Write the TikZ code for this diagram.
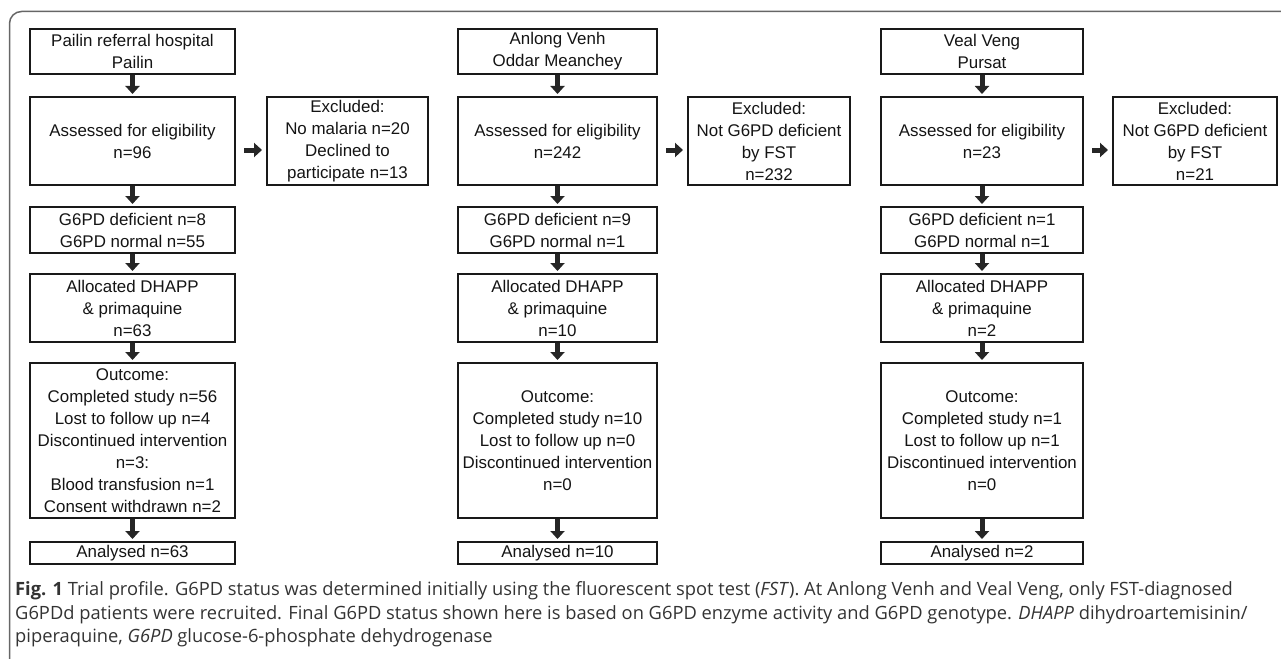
\documentclass[tikz,border=0pt]{standalone}
\usepackage{fontspec}
\setmainfont{Liberation Sans}
\newfontfamily\capfont{Open Sans}
\usetikzlibrary{arrows.meta}
\begin{document}
\begin{tikzpicture}[x=1pt,y=-1pt,
  bx/.style={draw=black!90, line width=2pt, inner sep=0pt, align=center, anchor=north west,
    text=black!92, font=\fontsize{16.9}{22}\selectfont},
  barrow/.style={line width=5pt, -{Triangle[length=8pt,width=14pt]}, draw=black!85},
  captext/.style={anchor=base west, inner sep=0pt, text=black!80, font=\capfont\fontsize{18.3}{24}\selectfont},
]
\useasboundingbox (0,0) rectangle (1281,658);
\draw[line width=1.5pt, black!60, rounded corners=12pt] (9.5,660) -- (9.5,11.5) -- (1283,11.5);

% Column 1: Pailin
\node[bx, minimum width=205pt, minimum height=45pt] (p1) at (29,28) {Pailin referral hospital\\Pailin};
\node[bx, minimum width=205pt, minimum height=88pt] (p2) at (29,96) {Assessed for eligibility\\n=96};
\node[bx, minimum width=205pt, minimum height=46pt] (p3) at (29,206) {G6PD deficient n=8\\G6PD normal n=55};
\node[bx, minimum width=205pt, minimum height=68pt] (p4) at (29,273) {Allocated DHAPP\\\& primaquine\\n=63};
\node[bx, minimum width=205pt, minimum height=155pt] (p5) at (29,362) {Outcome:\\Completed study n=56\\Lost to follow up n=4\\Discontinued intervention\\n=3:\\Blood transfusion n=1\\Consent withdrawn n=2};
\node[bx, minimum width=205pt, minimum height=22pt] (p6) at (29,541) {Analysed n=63};
\node[bx, minimum width=161pt, minimum height=88pt] (pe) at (266,96) {Excluded:\\No malaria n=20\\Declined to\\participate n=13};

% Column 2: Anlong Venh
\node[bx, minimum width=199pt, minimum height=45pt] (a1) at (457,28) {Anlong Venh\\Oddar Meanchey};
\node[bx, minimum width=199pt, minimum height=88pt] (a2) at (457,96) {Assessed for eligibility\\n=242};
\node[bx, minimum width=199pt, minimum height=46pt] (a3) at (457,206) {G6PD deficient n=9\\G6PD normal n=1};
\node[bx, minimum width=199pt, minimum height=68pt] (a4) at (457,273) {Allocated DHAPP\\\& primaquine\\n=10};
\node[bx, minimum width=199pt, minimum height=155pt] (a5) at (457,362) {Outcome:\\Completed study n=10\\Lost to follow up n=0\\Discontinued intervention\\n=0};
\node[bx, minimum width=199pt, minimum height=22pt] (a6) at (457,541) {Analysed n=10};
\node[bx, minimum width=162pt, minimum height=88pt] (ae) at (687,96) {Excluded:\\Not G6PD deficient\\by FST\\n=232};

% Column 3: Veal Veng
\node[bx, minimum width=202pt, minimum height=45pt] (v1) at (880,28) {Veal Veng\\Pursat};
\node[bx, minimum width=202pt, minimum height=88pt] (v2) at (880,96) {Assessed for eligibility\\n=23};
\node[bx, minimum width=202pt, minimum height=46pt] (v3) at (880,206) {G6PD deficient n=1\\G6PD normal n=1};
\node[bx, minimum width=202pt, minimum height=68pt] (v4) at (880,273) {Allocated DHAPP\\\& primaquine\\n=2};
\node[bx, minimum width=202pt, minimum height=155pt] (v5) at (880,362) {Outcome:\\Completed study n=1\\Lost to follow up n=1\\Discontinued intervention\\n=0};
\node[bx, minimum width=202pt, minimum height=22pt] (v6) at (880,541) {Analysed n=2};
\node[bx, minimum width=164pt, minimum height=88pt] (ve) at (1112,96) {Excluded:\\Not G6PD deficient\\by FST\\n=21};

% Arrows
\foreach \c in {p,a,v}{
  \draw[barrow] (\c1.south) -- ([yshift=2pt]\c2.north);
  \draw[barrow] (\c2.south) -- ([yshift=2pt]\c3.north);
  \draw[barrow] (\c3.south) -- ([yshift=2pt]\c4.north);
  \draw[barrow] (\c4.south) -- ([yshift=2pt]\c5.north);
  \draw[barrow] (\c5.south) -- ([yshift=2pt]\c6.north);
  \draw[barrow] ([xshift=8pt,yshift=-9pt]\c2.east) -- ([xshift=-4pt,yshift=-9pt]\c e.west);
}

% Caption
\node[captext] (cap1) at (15,595) {\textbf{Fig. 1} Trial profile. G6PD status was determined initially using the fluorescent spot test (\textit{FST}). At Anlong Venh and Veal Veng, only FST-diagnosed};
\node[captext] (cap2) at (15,619) {G6PDd patients were recruited. Final G6PD status shown here is based on G6PD enzyme activity and G6PD genotype. \textit{DHAPP} dihydroartemisinin/};
\node[captext] (cap3) at (15,642) {piperaquine, \textit{G6PD} glucose-6-phosphate dehydrogenase};
\end{tikzpicture}
\end{document}
